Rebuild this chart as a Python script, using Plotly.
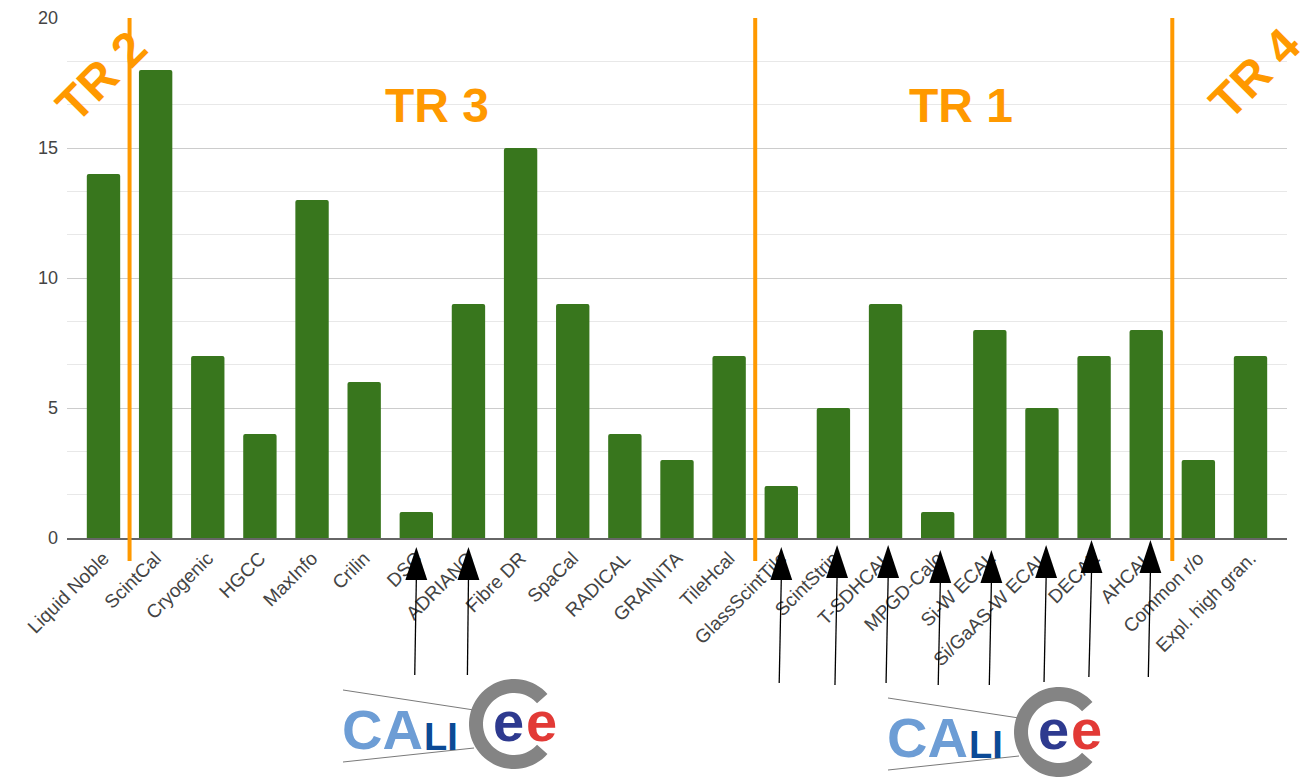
import numpy as np
import plotly.graph_objects as go

categories = ["Liquid Noble", "ScintCal", "Cryogenic", "HGCC", "MaxInfo", "Crilin", "DSC",
              "ADRIANO", "Fibre DR", "SpaCal", "RADICAL", "GRAINITA", "TileHcal",
              "GlassScintTile", "ScintStrip", "T-SDHCAL", "MPGD-Calo", "Si-W ECAL",
              "Si/GaAS-W ECAL", "DECAL", "AHCAL", "Common r/o", "Expl. high gran."]
values = [14, 18, 7, 4, 13, 6, 1, 9, 15, 9, 4, 3, 7, 2, 5, 9, 1, 8, 5, 7, 8, 3, 7]

# group separators (between categories) and group labels
separators = [0.5, 12.5, 20.5]
arrow_targets = ["DSC", "ADRIANO", "GlassScintTile", "ScintStrip", "T-SDHCAL", "MPGD-Calo",
                 "Si-W ECAL", "Si/GaAS-W ECAL", "DECAL", "AHCAL"]

ORANGE = "#ff9900"
GREEN = "#38761d"
OFF = 8  # page body margin
W, H = 1316 - OFF, 777 - OFF
L, R, T, B = 67 - OFF, 29, 18 - OFF, 239
PW, PH = 1220, 520
X0, Y0 = 67, 538  # page pixel of plot origin


def P(px, py):
    return (px - X0) / PW, (Y0 - py) / PH


fig = go.Figure(go.Bar(x=list(range(len(categories))), y=values, marker_color=GREEN,
                       marker_line_width=0, width=0.64, marker_cornerradius=2))

shapes = []
annotations = []

for s in separators:
    shapes.append(dict(type="line", xref="x", yref="paper", x0=s, x1=s,
                       y0=P(0, 561)[1], y1=1.0, line=dict(color=ORANGE, width=4), layer="above"))

# arrows pointing to labels
tip_y = [547, 547, 547, 545, 545, 550, 550, 545, 540, 540]
tail_y = [675, 675, 683, 685, 683, 685, 685, 682, 677, 677]
dx_tip = [0.0, 0.0, 0.0, 0.07, 0.05, 0.05, 0.03, 0.08, -0.05, 0.08]
dx_tail = [-0.03, -0.02, -0.04, 0.03, 0.01, 0.01, -0.01, 0.04, -0.1, 0.04]
for name, ty, tl, dt, dl in zip(arrow_targets, tip_y, tail_y, dx_tip, dx_tail):
    i = categories.index(name)
    xt = i + dt
    base = ty + 33
    shapes.append(dict(type="line", xref="x", yref="paper", x0=i + dl, x1=xt,
                       y0=P(0, tl)[1], y1=P(0, base)[1], line=dict(color="#000", width=1.3)))
    hw = 0.21
    path = f"M {xt},{P(0, ty)[1]} L {xt - hw},{P(0, base)[1]} L {xt + hw},{P(0, base)[1]} Z"
    shapes.append(dict(type="path", xref="x", yref="paper", path=path,
                       fillcolor="#000", line=dict(color="#000", width=0)))

# TR labels
tr = [("TR 2", 101, 76, -45), ("TR 3", 437, 106, 0), ("TR 1", 961, 106, 0), ("TR 4", 1255, 74, -45)]
for txt, px, py, ang in tr:
    x, y = P(px, py)
    annotations.append(dict(text=f"<b>{txt}</b>", x=x, y=y, xref="paper", yref="paper",
                            showarrow=False, textangle=ang, xanchor="center", yanchor="middle",
                            font=dict(family="Liberation Sans, Arial", size=48, color=ORANGE)))


def logo(ox, oy):
    # wedge lines
    for (x0, y0, x1, y1) in [(343, 690, 474, 710), (343, 762, 474, 748)]:
        a, b = P(x0 + ox, y0 + oy)
        c, d = P(x1 + ox, y1 + oy)
        shapes.append(dict(type="line", xref="paper", yref="paper", x0=a, y0=b, x1=c, y1=d,
                           line=dict(color="#7a7a7a", width=1)))
    # C ring
    cx, cy, ro, ri = 514 + ox, 724 + oy, 45, 31
    th = np.radians(np.linspace(42, 318, 60))
    outer = [P(cx + ro * np.cos(t), cy - ro * np.sin(t)) for t in th]
    inner = [P(cx + ri * np.cos(t), cy - ri * np.sin(t)) for t in th[::-1]]
    pts = outer + inner
    path = "M " + " L ".join(f"{a:.5f},{b:.5f}" for a, b in pts) + " Z"
    shapes.append(dict(type="path", xref="paper", yref="paper", path=path,
                       fillcolor="#848484", line=dict(width=0)))
    # letters
    fam = "Liberation Sans, Arial"
    items = [("CA", 340, 729, "#6d9dd5", 56),
             ("LI", 422, 737, "#0b4a96", 38),
             ("e", 491, 721, "#2e3a8f", 56),
             ("e", 524, 721, "#e23a36", 56)]
    for txt, px, py, col, sz in items:
        x, y = P(px + ox, py + oy)
        annotations.append(dict(text=f"<b>{txt}</b>", x=x, y=y, xref="paper", yref="paper",
                                showarrow=False, xanchor="left", yanchor="middle",
                                font=dict(family=fam, size=sz, color=col)))


logo(0, 0)
logo(545, 8)

fig.update_layout(
    width=W, height=H, margin=dict(l=L, r=R, t=T, b=B, autoexpand=False),
    plot_bgcolor="white", paper_bgcolor="white", showlegend=False,
    font=dict(family="Liberation Sans, Arial", color="#444"),
    shapes=shapes, annotations=annotations,
)
fig.update_xaxes(range=[-0.7, len(categories) - 0.3], tickmode="array", automargin=False,
                 tickvals=list(range(len(categories))), ticktext=categories, tickangle=-45,
                 tickfont=dict(size=19, color="#444"), showgrid=False, showline=True,
                 linecolor="#666", linewidth=1.5, ticks="", zeroline=False)
fig.update_yaxes(range=[0, 20], dtick=5, tick0=0, showgrid=True, gridcolor="#cccccc",
                 gridwidth=1, zeroline=False, tickfont=dict(size=18, color="#444"),
                 ticklabelstandoff=8, automargin=False,
                 minor=dict(dtick=5 / 3, tick0=0, showgrid=True, gridcolor="#e8e8e8", gridwidth=1))

fig.write_html("out.html")
